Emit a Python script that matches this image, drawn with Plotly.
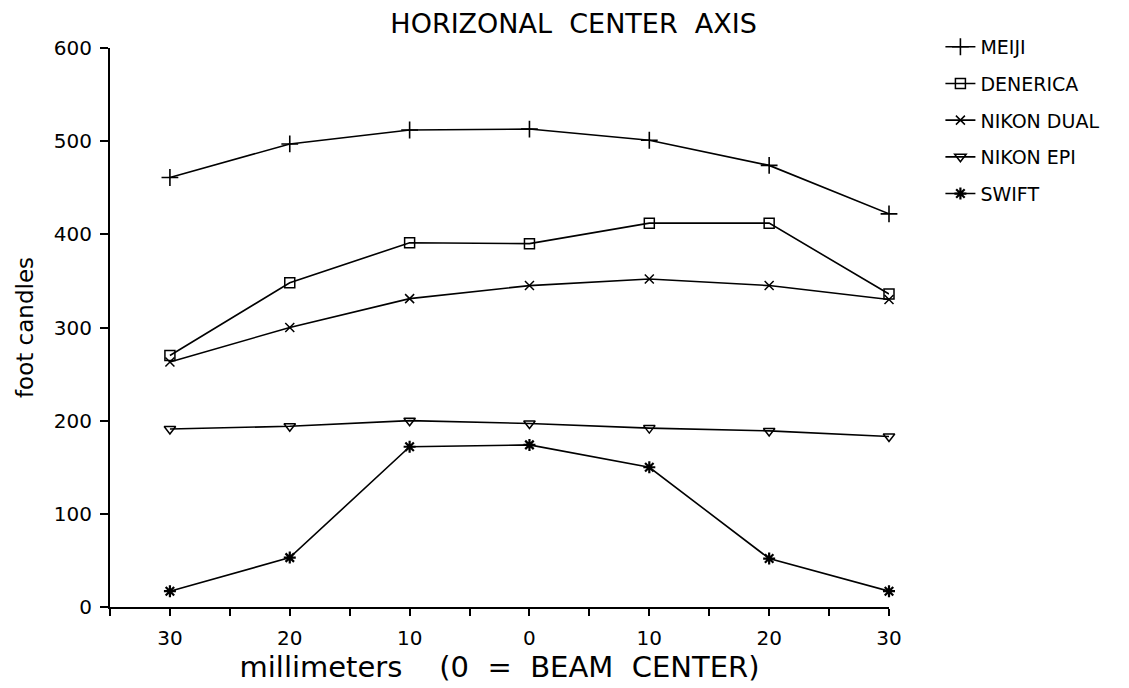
import plotly.graph_objects as go

# positions along the horizontal axis (mm, negative = left of beam center)
positions = [-30, -20, -10, 0, 10, 20, 30]
tick_vals = [-30, -20, -10, 0, 10, 20, 30]
tick_text = ["30", "20", "10", "0", "10", "20", "30"]

meiji = [461, 497, 512, 513, 501, 474, 422]
denerica = [270, 348, 391, 390, 412, 412, 336]
nikon_dual = [263, 300, 331, 345, 352, 345, 330]
nikon_epi = [191, 194, 200, 197, 192, 189, 183]
swift = [17, 53, 172, 174, 150, 52, 17]

series = [
    ("MEIJI", meiji, "cross-thin", 12, 1.6),
    ("DENERICA", denerica, "square-open", 10, 1.5),
    ("NIKON DUAL", nikon_dual, "x-thin", 9, 1.5),
    ("NIKON EPI", nikon_epi, "triangle-down-open", 10, 1.5),
    ("SWIFT", swift, "asterisk-open", 10, 2.2),
]

FONT = "DejaVu Sans"
fig = go.Figure()
for i, (name, vals, sym, size, lw) in enumerate(series):
    fig.add_trace(go.Scatter(
        x=positions, y=vals, name=name, mode="lines+markers",
        line=dict(color="black", width=1.6),
        marker=dict(symbol=sym, size=size, color="black",
                    line=dict(color="black", width=lw)),
        cliponaxis=False, legendgroup=str(i),
    ))

fig.update_layout(
    width=1129, height=688,
    paper_bgcolor="white", plot_bgcolor="white",
    margin=dict(l=102, r=248, t=40, b=89),
    font=dict(family=FONT, color="black"),
    title=dict(text="HORIZONAL  CENTER  AXIS", xref="container", x=0.501,
               xanchor="center", yref="container", y=1 - 16 / 688,
               yanchor="middle", font=dict(size=27, family=FONT)),
    showlegend=True,
    legend=dict(x=1.066, xanchor="left", y=1.036, yanchor="top",
                font=dict(size=19, family=FONT), tracegroupgap=9,
                bgcolor="rgba(0,0,0,0)", itemwidth=30),
)
fig.update_xaxes(
    range=[-35, 30], tickmode="array", tickvals=tick_vals, ticktext=tick_text,
    showgrid=False, zeroline=False, showline=True, linecolor="black", linewidth=2,
    ticks="outside", ticklen=7, tickwidth=2, tickcolor="black",
    minor=dict(tickmode="linear", tick0=-35, dtick=5, ticks="outside",
               ticklen=7, tickwidth=2, tickcolor="black", showgrid=False),
    tickfont=dict(size=20, family=FONT), ticklabelstandoff=5,
    title=dict(text="millimeters    (0  =  BEAM  CENTER)",
               font=dict(size=29, family=FONT), standoff=4),
)
fig.update_yaxes(
    range=[0, 600], tickmode="linear", tick0=0, dtick=100,
    showgrid=False, zeroline=False, showline=True, linecolor="black", linewidth=2,
    ticks="outside", ticklen=8, tickwidth=2, tickcolor="black",
    tickfont=dict(size=20, family=FONT), ticklabelstandoff=4,
    title=dict(text="foot candles", font=dict(size=23, family=FONT), standoff=14),
)

fig.write_html("out.html")
